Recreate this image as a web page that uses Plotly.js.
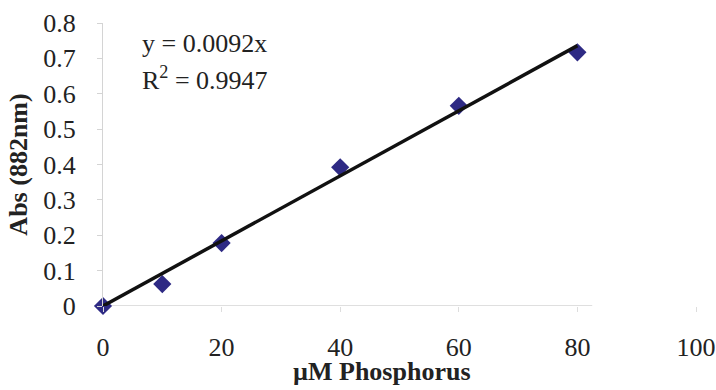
<!DOCTYPE html>
<html>
<head>
<meta charset="utf-8">
<script src="https://cdn.plot.ly/plotly-3.0.1.min.js"></script>
<style>html,body{margin:0;padding:0;background:#fff;}#chart{width:716px;height:390px;}</style>
</head>
<body>
<div id="chart"></div>
<script>
// Data
var concentration = [0, 10, 20, 40, 60, 80];          // µM Phosphorus
var absorbance    = [0, 0.062, 0.178, 0.392, 0.566, 0.717]; // Abs (882nm)
var trendX = [0, 80];
var trendY = [0, 0.736];                              // y = 0.0092x
var xTicks = [0, 20, 40, 60, 80, 100];
var yTicks = [0, 0.1, 0.2, 0.3, 0.4, 0.5, 0.6, 0.7, 0.8];
var yTickText = ['0', '0.1', '0.2', '0.3', '0.4', '0.5', '0.6', '0.7', '0.8'];
var equationText = 'y = 0.0092x';
var r2Text = 'R<sup>2</sup> = 0.9947';
var xTitle = 'µM Phosphorus';
var yTitle = 'Abs (882nm)';

var font = 'Liberation Serif, Times New Roman, serif';
var textColor = '#222222';

var traces = [
  {
    x: concentration, y: absorbance, type: 'scatter', mode: 'markers',
    marker: {symbol: 'diamond', size: 14, color: '#2E2A84'}, cliponaxis: false,
    hoverinfo: 'skip', showlegend: false
  },
  {
    x: trendX, y: trendY, type: 'scatter', mode: 'lines',
    line: {color: '#111111', width: 3.5}, cliponaxis: false,
    hoverinfo: 'skip', showlegend: false
  }
];

var layout = {
  width: 716, height: 390,
  margin: {l: 103, r: 20, t: 23, b: 84},
  paper_bgcolor: '#ffffff', plot_bgcolor: '#ffffff',
  showlegend: false,
  font: {family: font, color: textColor, size: 26},
  xaxis: {
    range: [0, 100], tickvals: xTicks, ticktext: xTicks.map(String),
    showgrid: false, zeroline: false, showline: false,
    ticks: 'outside', ticklen: 5, tickcolor: '#dddddd', tickwidth: 1,
    ticklabelstandoff: 13,
    tickfont: {family: font, size: 26, color: textColor},
    fixedrange: true
  },
  yaxis: {
    range: [0, 0.8], tickvals: yTicks, ticktext: yTickText,
    showgrid: false, zeroline: false, showline: true, linecolor: '#d4d4d4', linewidth: 1,
    ticks: 'outside', ticklen: 5, tickcolor: '#d4d4d4', tickwidth: 1,
    ticklabelstandoff: 16,
    tickfont: {family: font, size: 26, color: textColor},
    title: {text: '<b>' + yTitle + '</b>', font: {family: font, size: 26, color: textColor}, standoff: 8},
    fixedrange: true
  },
  shapes: [
    {type: 'line', xref: 'x', yref: 'y', x0: 0, x1: 82.5, y0: 0, y1: 0,
     line: {color: '#d4d4d4', width: 1.5}, layer: 'below'}
  ],
  annotations: [
    {xref: 'paper', yref: 'paper', x: (140 - 103) / 593, y: 1 - (44 - 23) / 283,
     xanchor: 'left', yanchor: 'middle', showarrow: false, text: equationText,
     font: {family: font, size: 26, color: textColor}},
    {xref: 'paper', yref: 'paper', x: (140 - 103) / 593, y: 1 - (78 - 23) / 283,
     xanchor: 'left', yanchor: 'middle', showarrow: false, text: r2Text,
     font: {family: font, size: 26, color: textColor}},
    {xref: 'paper', yref: 'paper', x: (382 - 103) / 593, y: -(372 - 306) / 283,
     xanchor: 'center', yanchor: 'middle', showarrow: false, text: '<b>' + xTitle + '</b>',
     font: {family: font, size: 26, color: textColor}}
  ]
};

Plotly.newPlot('chart', traces, layout, {displayModeBar: false, staticPlot: true});
</script>
</body>
</html>
